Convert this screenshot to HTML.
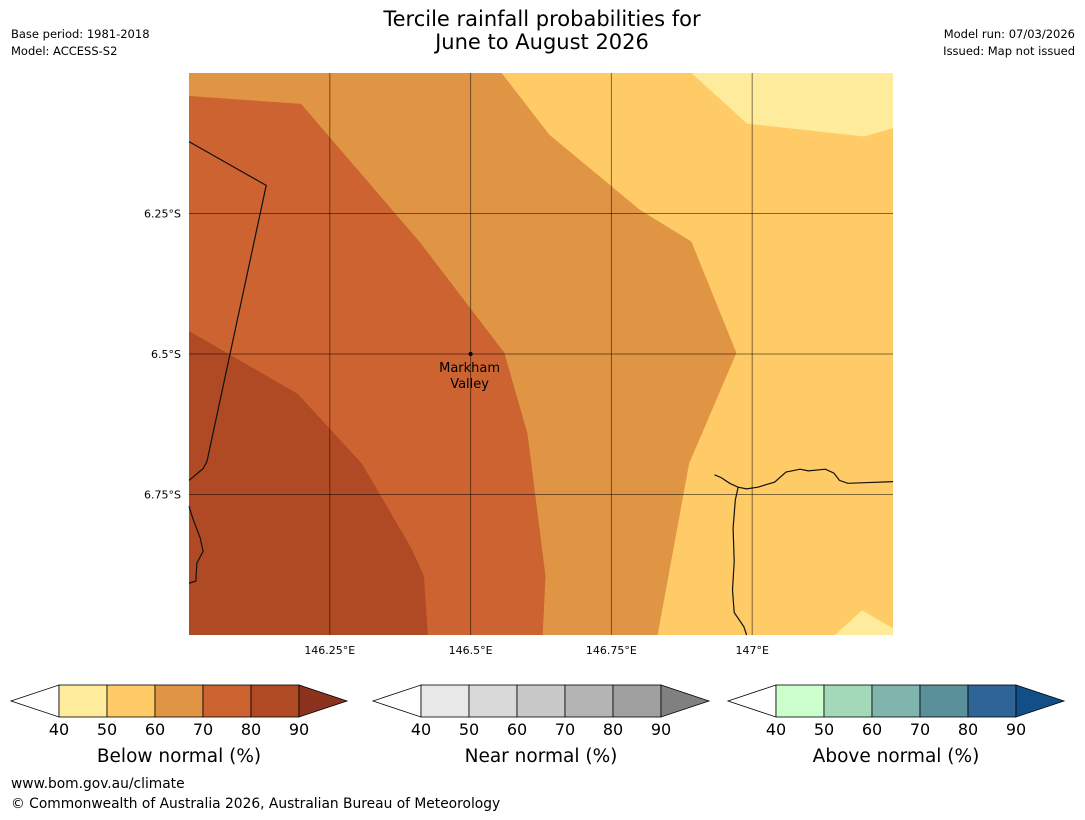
<!DOCTYPE html>
<html><head><meta charset="utf-8"><style>
body{margin:0;background:#fff;width:1085px;height:816px;overflow:hidden;font-family:"DejaVu Sans","Liberation Sans",sans-serif}
svg text{font-family:"DejaVu Sans","Liberation Sans",sans-serif}
</style></head><body>
<svg id="chart" width="1085" height="816" xmlns="http://www.w3.org/2000/svg">
<text x="11" y="38" font-size="11.5">Base period: 1981-2018</text>
<text x="11" y="55" font-size="11.5">Model: ACCESS-S2</text>
<text x="542" y="26" font-size="21" text-anchor="middle">Tercile rainfall probabilities for</text>
<text x="542" y="49" font-size="21" text-anchor="middle">June to August 2026</text>
<text x="1075" y="38" font-size="11.5" text-anchor="end">Model run: 07/03/2026</text>
<text x="1075" y="55" font-size="11.5" text-anchor="end">Issued: Map not issued</text>
<g id="map"></g>
<g id="bars"></g>
<text x="11" y="788" font-size="13.8">www.bom.gov.au/climate</text>
<text x="11" y="808" font-size="13.8">© Commonwealth of Australia 2026, Australian Bureau of Meteorology</text>
</svg>
<script>
// map extent
const lonRange=[146.0,147.25], latRange=[6.0,7.0];
const lonTicks=[146.25,146.5,146.75,147.0];
const lonTickLabels=["146.25°E","146.5°E","146.75°E","147°E"];
const latTicks=[6.25,6.5,6.75];
const latTickLabels=["6.25°S","6.5°S","6.75°S"];
// contour regions [lon,lat(S)]
const region5060=[[146,6],[147.25,6],[147.25,7],[146,7]];
const region4050a=[[146.892,6.0],[146.991,6.09],[147.199,6.113],[147.25,6.098],[147.25,6.0]];
const region4050b=[[147.147,7.0],[147.195,6.956],[147.25,6.988],[147.25,7.0]];
const region6070=[[146,6],[146.555,6.0],[146.64,6.11],[146.8,6.243],[146.892,6.3],[146.972,6.498],[146.888,6.695],[146.832,7.0],[146,7]];
const region7080=[[146,6.041],[146.199,6.055],[146.41,6.301],[146.56,6.498],[146.601,6.642],[146.633,6.895],[146.628,7.0],[146,7]];
const region8090=[[146,6.459],[146.193,6.571],[146.307,6.695],[146.395,6.846],[146.417,6.895],[146.424,7.0],[146,7]];
const borderLine=[[146,6.122],[146.137,6.2],[146.032,6.691],[146.025,6.704],[146,6.725]];
const coastWest=[[146,6.771],[146.007,6.793],[146.02,6.828],[146.025,6.851],[146.014,6.872],[146.012,6.904],[146,6.908]];
const coastEast=[[146.933,6.715],[146.945,6.72],[146.96,6.73],[146.975,6.737],[146.99,6.74],[147.01,6.737],[147.04,6.728],[147.06,6.71],[147.085,6.705],[147.1,6.708],[147.13,6.705],[147.145,6.712],[147.155,6.725],[147.17,6.73],[147.2,6.729],[147.25,6.727]];
const coastSouth=[[146.975,6.737],[146.97,6.76],[146.966,6.81],[146.968,6.87],[146.965,6.92],[146.968,6.96],[146.985,6.985],[146.99,7.0]];
const X0=189,X1=893,Y0=73,Y1=635;
const sx=l=>X0+(l-lonRange[0])/(lonRange[1]-lonRange[0])*(X1-X0);
const sy=l=>Y0+(l-latRange[0])/(latRange[1]-latRange[0])*(Y1-Y0);
const NS="http://www.w3.org/2000/svg";
const map=document.getElementById('map');
function mk(tag,attrs,parent){const e=document.createElementNS(NS,tag);for(const k in attrs)e.setAttribute(k,attrs[k]);parent.appendChild(e);return e;}
const pts=a=>a.map(p=>sx(p[0]).toFixed(1)+','+sy(p[1]).toFixed(1)).join(' ');
const regions=[[region5060,'#fecb66','region-50-60'],[region4050a,'#ffeb9c','region-40-50-north'],[region4050b,'#ffeb9c','region-40-50-south'],[region6070,'#e09545','region-60-70'],[region7080,'#cc6331','region-70-80'],[region8090,'#b04a24','region-80-90']];
for(const r of regions){const e=mk('polygon',{points:pts(r[0]),fill:r[1]},map);

}
for(const [ln,nm] of [[borderLine,'border-line'],[coastWest,'coast-west'],[coastEast,'coast-east'],[coastSouth,'coast-south']]){
const e=mk('polyline',{points:pts(ln),fill:'none',stroke:'#111','stroke-width':1.2},map);

}
lonTicks.forEach((t,i)=>{const x=sx(t);
const g=mk('line',{x1:x,x2:x,y1:Y0,y2:Y1,stroke:'#000','stroke-opacity':0.5,'stroke-width':1},map);


const tx=mk('text',{x:x,y:Y1+19,'font-size':11,'text-anchor':'middle'},map);tx.textContent=lonTickLabels[i];

});
latTicks.forEach((t,i)=>{const y=sy(t);
const g=mk('line',{x1:X0,x2:X1,y1:y,y2:y,stroke:'#000','stroke-opacity':0.5,'stroke-width':1},map);


const tx=mk('text',{x:X0-8,y:y+4,'font-size':11,'text-anchor':'end'},map);tx.textContent=latTickLabels[i];

});
const dot=mk('circle',{cx:sx(146.5),cy:sy(6.5),r:2,fill:'#000'},map);


const l1=mk('text',{x:sx(146.5)-1,y:sy(6.5)+18,'font-size':13,'text-anchor':'middle'},map);l1.textContent='Markham';


const l2=mk('text',{x:sx(146.5)-1,y:sy(6.5)+34,'font-size':13,'text-anchor':'middle'},map);l2.textContent='Valley';


// colorbars
const barTicks=[40,50,60,70,80,90];
const barTitles=["Below normal (%)","Near normal (%)","Above normal (%)"];
const barColors=[["#ffeb9c","#fecb66","#e09545","#cc6331","#b04a24","#8b331f"],["#e8e8e8","#d9d9d9","#c8c8c8","#b4b4b4","#a0a0a0","#808080"],["#ccffcc","#a3d9b9","#80b5ad","#5a9099","#2e6496","#124e88"]];
const barX=[11,373,728];
const bars=document.getElementById('bars');
barX.forEach((bx,b)=>{const g=mk('g',{},bars);


const top=685,bot=717,mid=701,w=48,x0=bx+48;
const lt=mk('polygon',{points:`${bx},${mid} ${x0},${top} ${x0},${bot}`,fill:'#fff',stroke:'#000','stroke-width':0.8},g);


for(let i=0;i<5;i++){const r=mk('rect',{x:x0+i*w,y:top,width:w,height:bot-top,fill:barColors[b][i],stroke:'#000','stroke-width':0.8},g);

}
const xe=x0+5*w;
const rt=mk('polygon',{points:`${xe},${top} ${xe+48},${mid} ${xe},${bot}`,fill:barColors[b][5],stroke:'#000','stroke-width':0.8},g);


barTicks.forEach((t,i)=>{const tx=mk('text',{x:x0+i*w,y:735,'font-size':16,'text-anchor':'middle'},g);tx.textContent=t;

});
const tt=mk('text',{x:x0+2.5*w,y:762,'font-size':18.5,'text-anchor':'middle'},g);tt.textContent=barTitles[b];


});
</script>
</body></html>
